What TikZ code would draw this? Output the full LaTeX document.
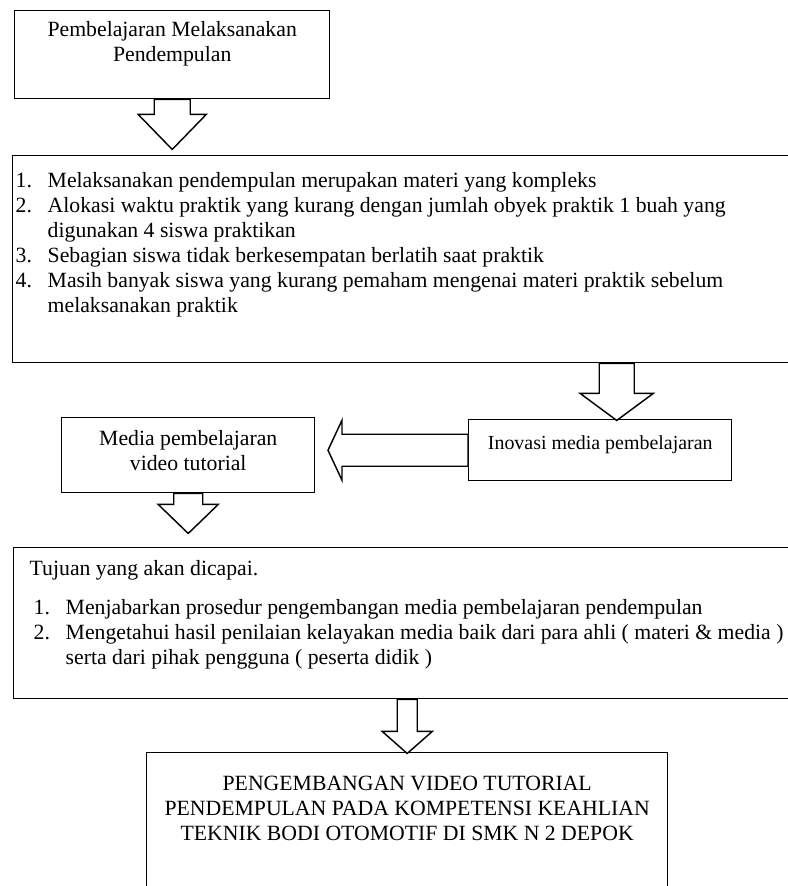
\documentclass[tikz,border=0pt]{standalone}
\usepackage{fontspec}
\setmainfont{Liberation Serif}
\usepackage{enumitem}
\usepackage{tikz}
\usetikzlibrary{calc}
\newdimen\px \px=0.552pt
\setlist[enumerate]{nosep, labelsep=0pt, labelwidth=32\px, align=left, label=\arabic*.}
\tikzset{
  box/.style={draw=black, line width=0.8pt, anchor=north west, inner sep=0pt, font=\fontsize{12pt}{13.8pt}\selectfont},
  smallbox/.style={box, font=\fontsize{11pt}{12.65pt}\selectfont},
  blockarrow/.style={draw=black, line width=0.8pt, fill=white, line join=miter}
}

\begin{document}
\begin{tikzpicture}[x=1\px, y=-1\px]
\useasboundingbox (0,0) rectangle (788,886);
\clip (0,0) rectangle (788,886);
% ---- boxes ----
\node[box] (pel) at (14,10) {\parbox[c][88\px][t]{315\px}{\centering\rule{0pt}{26\px}Pembelajaran Melaksanakan\\Pendempulan}};
\node[box] (masalah) at (12,155) {\parbox[c][207\px][t]{808\px}{\raggedright
\begin{enumerate}[leftmargin=35\px]
\item \rule{0pt}{32\px}Melaksanakan pendempulan merupakan materi yang kompleks
\item Alokasi waktu praktik yang kurang dengan jumlah obyek praktik 1 buah yang\newline digunakan 4 siswa praktikan
\item Sebagian siswa tidak berkesempatan berlatih saat praktik
\item Masih banyak siswa yang kurang pemaham mengenai materi praktik sebelum\newline melaksanakan praktik
\end{enumerate}}};
\node[box] (media) at (61,417) {\parbox[c][75\px][t]{253\px}{\centering\rule{0pt}{28\px}Media pembelajaran\\video tutorial}};
\node[smallbox] (inovasi) at (468,419) {\parbox[c][61\px][t]{263\px}{\centering\rule{0pt}{30\px}Inovasi media pembelajaran}};
\node[box] (tujuan) at (13,547) {\parbox[c][151\px][t]{807\px}{\raggedright\hspace*{16\px}\rule{0pt}{28\px}Tujuan yang akan dicapai.\par
\begin{enumerate}[topsep=14\px, leftmargin=52\px]
\item Menjabarkan prosedur pengembangan media pembelajaran pendempulan
\item Mengetahui hasil penilaian kelayakan media baik dari para ahli ( materi \& media )\newline serta dari pihak pengguna ( peserta didik )
\end{enumerate}}};
\node[box] (judul) at (146,752) {\parbox[c][170\px][t]{521\px}{\centering\rule{0pt}{38\px}PENGEMBANGAN VIDEO TUTORIAL\\PENDEMPULAN PADA KOMPETENSI KEAHLIAN\\TEKNIK BODI OTOMOTIF DI SMK N 2 DEPOK}};
% ---- block arrows ----
\draw[blockarrow] ($(pel.south)+(-18,0)$) -- ++(0,15) -- ++(-16,0) -- ++(34,35) -- ++(34,-35) -- ++(-16,0) -- ++(0,-15) -- cycle;
\draw[blockarrow] ($(inovasi.north |- masalah.south)+(-1,0)$) -- ++(0,30) -- ++(-19,0) -- ++(36.5,27) -- ++(36.5,-27) -- ++(-19,0) -- ++(0,-30) -- cycle;
\draw[blockarrow] ($(inovasi.west)+(0,-16)$) -- ++(-126,0) -- ++(0,-14) -- ++(-14,30) -- ++(14,30) -- ++(0,-14) -- ++(126,0) -- cycle;
\draw[blockarrow] ($(media.south)+(-14.5,0)$) -- ++(0,11) -- ++(-15.5,0) -- ++(30,29) -- ++(30,-29) -- ++(-15.5,0) -- ++(0,-11) -- cycle;
\draw[blockarrow] ($(judul.north |- tujuan.south)+(-10,0)$) -- ++(0,32) -- ++(-15,0) -- ++(25,22) -- ++(25,-22) -- ++(-15,0) -- ++(0,-32) -- cycle;
\end{tikzpicture}
\end{document}
